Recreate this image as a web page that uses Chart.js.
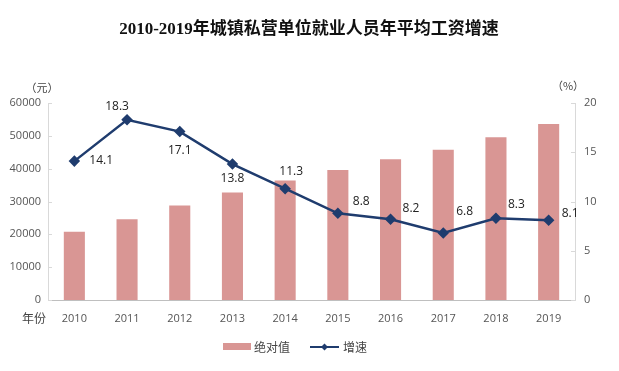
<!DOCTYPE html>
<html><head><meta charset="utf-8">
<script src="https://cdn.jsdelivr.net/npm/chart.js@4/dist/chart.umd.min.js"></script>
<style>html,body{margin:0;padding:0;background:#fff;}canvas{display:block;}</style>
</head><body>
<canvas id="c" width="619" height="371"></canvas>
<script>
const years = ['2010','2011','2012','2013','2014','2015','2016','2017','2018','2019'];
const wages = [20759,24556,28752,32706,36390,39589,42833,45761,49575,53604];
const growth = [14.1,18.3,17.1,13.8,11.3,8.8,8.2,6.8,8.3,8.1];
const titleText = '2010-2019年城镇私营单位就业人员年平均工资增速';
const leftUnit = '（元）';
const rightUnit = '（%）';
const xAxisName = '年份';
const seriesNames = ['绝对值','增速'];

const BAR = '#D99694', LINE = '#1F3C6E';
const labelOffsets = [[15,-1,'left'],[-10,-13,'center'],[0,19,'center'],[0,15,'center'],[6,-17,'center'],[15,-12,'left'],[12,-11,'left'],[13,-21,'left'],[12,-14,'left'],[13,-7,'left']];

const custom = {
  id:'custom',
  afterDraw(chart){
    const ctx = chart.ctx, ca = chart.chartArea;
    const yl = chart.scales.y, yr = chart.scales.y1;
    ctx.save();
    ctx.fillStyle = '#111';
    ctx.font = 'bold 17px "Liberation Serif","Noto Sans CJK SC"';
    ctx.textAlign = 'center'; ctx.textBaseline = 'middle';
    ctx.fillText(titleText, 309, 30);
    ctx.font = '11px "Noto Sans CJK SC"';
    ctx.fillStyle = '#444';
    ctx.fillText(leftUnit, 42, 88);
    ctx.fillText(rightUnit, 568, 86);
    ctx.textAlign = 'left';
    ctx.font = '12px "Noto Sans CJK SC"';
    ctx.fillText(xAxisName, 22, 318);
    ctx.strokeStyle = '#D9D9D9'; ctx.lineWidth = 1;
    yl.ticks.forEach(t=>{const yy=Math.round(yl.getPixelForValue(t.value))+0.5;ctx.beginPath();ctx.moveTo(ca.left,yy);ctx.lineTo(ca.left+4,yy);ctx.stroke();});
    yr.ticks.forEach(t=>{const yy=Math.round(yr.getPixelForValue(t.value))+0.5;ctx.beginPath();ctx.moveTo(ca.right-4,yy);ctx.lineTo(ca.right,yy);ctx.stroke();});
    const meta = chart.getDatasetMeta(1);
    ctx.font = '12px "Open Sans","DejaVu Sans"';
    ctx.fillStyle = '#222'; ctx.textBaseline = 'middle';
    meta.data.forEach((p,i)=>{
      const o = labelOffsets[i];
      ctx.textAlign = o[2];
      ctx.fillText(growth[i].toFixed(1), p.x+o[0], p.y+o[1]);
    });
    ctx.fillStyle = BAR;
    ctx.fillRect(223,343,28,7);
    ctx.fillStyle = '#444';
    ctx.textAlign='left';
    ctx.font = '12px "Noto Sans CJK SC"';
    ctx.fillText(seriesNames[0], 254, 347);
    ctx.strokeStyle = LINE; ctx.lineWidth = 2;
    ctx.beginPath(); ctx.moveTo(310,347); ctx.lineTo(339,347); ctx.stroke();
    ctx.fillStyle = LINE;
    ctx.beginPath(); ctx.moveTo(324.5,343.5); ctx.lineTo(328,347); ctx.lineTo(324.5,350.5); ctx.lineTo(321,347); ctx.closePath(); ctx.fill();
    ctx.fillStyle = '#444';
    ctx.fillText(seriesNames[1], 343, 347);
    ctx.restore();
  }
};

new Chart(document.getElementById('c'), {
  data:{
    labels: years,
    datasets:[
      {type:'bar', label:seriesNames[0], data:wages, backgroundColor:BAR, yAxisID:'y', barPercentage:0.4, categoryPercentage:1, order:2},
      {type:'line', label:seriesNames[1], data:growth, borderColor:LINE, backgroundColor:LINE, borderWidth:2.5, pointStyle:'rectRot', pointRadius:4, pointHoverRadius:4, yAxisID:'y1', tension:0, order:1}
    ]
  },
  options:{
    responsive:false, animation:false,
    layout:{padding:{top:103,bottom:0,left:0,right:0}},
    plugins:{legend:{display:false}, title:{display:false}, tooltip:{enabled:false}},
    scales:{
      x:{
        grid:{display:false, drawTicks:false},
        border:{display:true,color:'#BFBFBF'},
        ticks:{color:'#555', font:{size:11,family:'"Open Sans","DejaVu Sans"'}, padding:12, maxRotation:0},
        afterFit(s){s.height=71;}
      },
      y:{
        position:'left', min:0, max:60000,
        ticks:{stepSize:10000, color:'#555', font:{size:11,family:'"Open Sans","DejaVu Sans"'}, padding:7, callback:v=>String(v)},
        grid:{display:false, drawTicks:false},
        border:{display:true,color:'#D9D9D9'},
        afterFit(s){s.width=48;}
      },
      y1:{
        position:'right', min:0, max:20,
        ticks:{stepSize:5, color:'#555', font:{size:11,family:'"Open Sans","DejaVu Sans"'}, padding:9, callback:v=>String(v)},
        grid:{display:false, drawTicks:false},
        border:{display:true,color:'#D9D9D9'},
        afterFit(s){s.width=44;}
      }
    }
  },
  plugins:[custom]
});
</script>
</body></html>
